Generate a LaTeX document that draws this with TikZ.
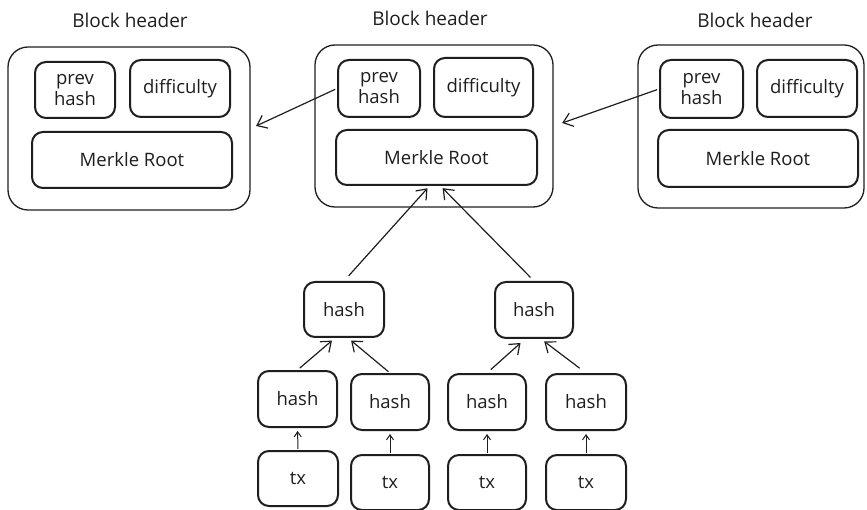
\documentclass[tikz,border=0pt]{standalone}
\usepackage{fontspec}
\setmainfont{Open Sans}
\usetikzlibrary{arrows.meta}
\definecolor{ink}{HTML}{1E1E1E}
\tikzset{
  outerbox/.style={draw=ink, line width=1.3pt, rounded corners=20pt, inner sep=0pt},
  innerbox/.style={draw=ink, line width=2pt, rounded corners=11pt, inner sep=0pt, align=center, font=\fontsize{18.5}{21}\selectfont, text=ink},
  title/.style={font=\fontsize{19}{21}\selectfont, text=ink},
  arr/.style={draw=ink, line width=1.2pt, -{Straight Barb[length=9pt,width=14pt,line width=1.2pt]}},
}
\begin{document}
\begin{tikzpicture}[x=1pt,y=-1pt]
\useasboundingbox (0,0) rectangle (867,510);
% left block
\node[title] (tL) at (130,20) {Block header};
\node[outerbox, minimum width=242pt, minimum height=163pt] (oL) at (129,128.5) {};
\node[innerbox, minimum width=80pt, minimum height=56pt] (pL) at (75,90) {prev\\hash};
\node[innerbox, minimum width=100pt, minimum height=57pt] (dL) at (180,88.5) {difficulty};
\node[innerbox, minimum width=200pt, minimum height=56pt] (mL) at (132,160) {Merkle Root};
% middle block
\node[title] (tM) at (430,18) {Block header};
\node[outerbox, minimum width=238pt, minimum height=162pt] (oM) at (434,126) {};
\node[innerbox, minimum width=82pt, minimum height=57pt] (pM) at (379,88.5) {prev\\hash};
\node[innerbox, minimum width=99pt, minimum height=59pt] (dM) at (483.5,87.5) {difficulty};
\node[innerbox, minimum width=201pt, minimum height=55pt] (mM) at (436.5,157.5) {Merkle Root};
% right block
\node[title] (tR) at (755,20) {Block header};
\node[outerbox, minimum width=226pt, minimum height=163pt] (oR) at (751,126.5) {};
\node[innerbox, minimum width=83pt, minimum height=58pt] (pR) at (701.5,89) {prev\\hash};
\node[innerbox, minimum width=100pt, minimum height=57pt] (dR) at (807,88.5) {difficulty};
\node[innerbox, minimum width=200pt, minimum height=57pt] (mR) at (758,158.5) {Merkle Root};
% tree
\node[innerbox, minimum width=80pt, minimum height=55pt] (h2L) at (344,309.5) {hash};
\node[innerbox, minimum width=78pt, minimum height=56pt] (h2R) at (534,310) {hash};
\node[innerbox, minimum width=79pt, minimum height=56pt] (h1a) at (297.5,399) {hash};
\node[innerbox, minimum width=78pt, minimum height=56pt] (h1b) at (390,402) {hash};
\node[innerbox, minimum width=78pt, minimum height=56pt] (h1c) at (487,402) {hash};
\node[innerbox, minimum width=80pt, minimum height=56pt] (h1d) at (586,402) {hash};
\node[innerbox, minimum width=80pt, minimum height=55pt] (ta) at (298,478.5) {tx};
\node[innerbox, minimum width=78pt, minimum height=55pt] (tb) at (390,482.5) {tx};
\node[innerbox, minimum width=78pt, minimum height=55pt] (tc) at (487,482.5) {tx};
\node[innerbox, minimum width=80pt, minimum height=55pt] (td) at (586,482.5) {tx};
% chain arrows
\draw[arr, shorten <=2pt, shorten >=6pt] (pM.west) -- (oL.east);
\draw[arr, shorten <=2pt, shorten >=9pt] (pR.west) -- (oM.east);
% tree arrows
\draw[arr, shorten <=7pt, shorten >=3pt] (h2L.north) -- ([xshift=-7pt]mM.south);
\draw[arr, shorten <=5pt, shorten >=3pt] (h2R.north) -- ([xshift=4pt]mM.south);
\draw[arr, shorten <=3pt, shorten >=4pt] (h1a.north) -- ([xshift=-9pt]h2L.south);
\draw[arr, shorten <=2pt, shorten >=4pt] (h1b.north) -- ([xshift=4pt]h2L.south);
\draw[arr, shorten <=5pt, shorten >=6pt] (h1c.north) -- ([xshift=-9pt]h2R.south);
\draw[arr, shorten <=8pt, shorten >=4pt] (h1d.north) -- ([xshift=7pt]h2R.south);
\foreach \t/\h in {ta/h1a, tb/h1b, tc/h1c, td/h1d}
  \draw[arr, line width=1pt, -{Straight Barb[length=5pt,width=7pt,line width=1pt]}, shorten <=1pt, shorten >=3pt] (\t.north) -- (\h.south);
\end{tikzpicture}
\end{document}
